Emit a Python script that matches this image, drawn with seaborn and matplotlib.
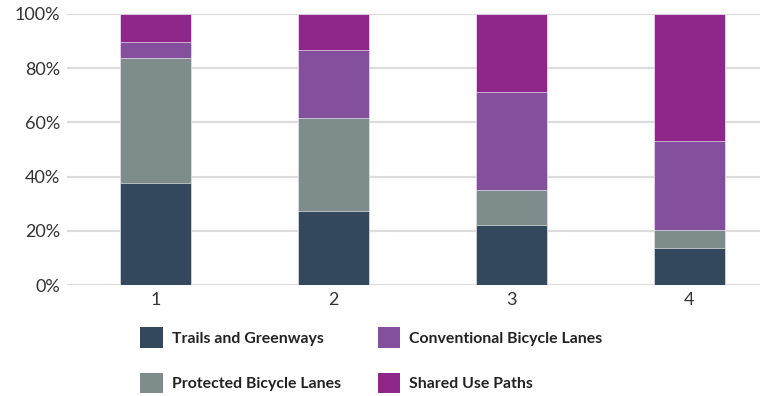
import matplotlib
matplotlib.use("Agg")
import matplotlib.pyplot as plt
from matplotlib.patches import Patch
import numpy as np
import pandas as pd
import seaborn as sns

# Share of each facility type within each group (percent)
groups = ["1", "2", "3", "4"]
trails = [37.7, 27.2, 22.3, 13.7]
protected = [46.2, 34.5, 12.6, 6.7]
conventional = [5.6, 24.9, 36.3, 32.6]
shared = [10.5, 13.4, 28.8, 47.0]

series_names = ["Trails and Greenways", "Protected Bicycle Lanes",
                "Conventional Bicycle Lanes", "Shared Use Paths"]
series_values = [trails, protected, conventional, shared]
colors = ["#33485c", "#7f8c8c", "#84509e", "#8f2689"]
y_ticks = [0, 20, 40, 60, 80, 100]
y_labels = ["0%", "20%", "40%", "60%", "80%", "100%"]

sns.set_theme(style="white")
plt.rcParams["font.family"] = ["Lato", "DejaVu Sans"]

fig = plt.figure(figsize=(7.67, 3.96), dpi=100)
ax = fig.add_axes([67 / 767, 111 / 396, 693 / 767, 271 / 396])

# Stack by drawing cumulative totals, tallest layer first
cum = np.cumsum(np.array(series_values), axis=0)
for name, top, color in reversed(list(zip(series_names, cum, colors))):
    sns.barplot(x=groups, y=top, order=groups, color=color, width=0.4,
                edgecolor="white", linewidth=0.4, saturation=1, ax=ax, zorder=3)

ax.set_ylim(0, 100)
ax.set_xlim(-0.5, 3.398)
ax.set_yticks(y_ticks)
ax.set_yticklabels(y_labels)
ax.yaxis.grid(True, color="#dcdcdc", linewidth=1.6, zorder=0)
ax.set_axisbelow(True)
for s in ax.spines.values():
    s.set_visible(False)
ax.tick_params(axis="both", length=0, labelsize=13, colors="#333333")
ax.tick_params(axis="y", pad=5)
ax.tick_params(axis="x", pad=5)
ax.set_xlabel("")
ax.set_ylabel("")

handles = [Patch(facecolor=c, edgecolor="none") for c in colors]
fig.legend(handles, series_names, loc="upper left",
           bbox_to_anchor=(134 / 767, 1 - 321 / 396), ncol=2, frameon=False,
           prop={"weight": "bold", "size": 11.4},
           handlelength=1.45, handleheight=1.6, handletextpad=0.55,
           columnspacing=2.3, labelspacing=1.6, borderaxespad=0,
           labelcolor="#222222")

fig.savefig("out.png", dpi=100)
